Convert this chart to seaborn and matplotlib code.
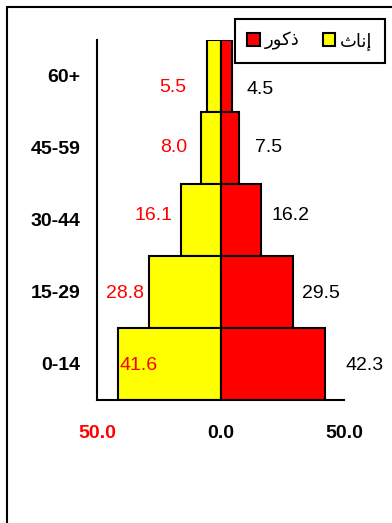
import matplotlib
matplotlib.use("Agg")
import pandas as pd
import seaborn as sns
import matplotlib.pyplot as plt
from matplotlib.patches import Patch
from matplotlib.lines import Line2D

# data, bottom age group first
ages = ["0-14", "15-29", "30-44", "45-59", "60+"]
females = [41.6, 28.8, 16.1, 8.0, 5.5]
males = [42.3, 29.5, 16.2, 7.5, 4.5]
x_ticks = [-50, 0, 50]
x_tick_labels = ["50.0", "0.0", "50.0"]

# matplotlib does no arabic shaping -> presentation forms in visual order
leg_male = "\ufead\ufeee\ufedb\ufeab"    # ذكور
leg_female = "\ufe99\ufe8e\ufee7\ufe87"  # إناث

# label nudges in pixels (x, y), per age group
fem_off = {"60+": (-34, -12), "45-59": (-27, 1), "30-44": (-27, 4), "15-29": (-24, -2), "0-14": (21, -2)}
male_off = {"60+": (29, -13), "45-59": (30, 1), "30-44": (30, 4), "15-29": (28, -2), "0-14": (40, -2)}

sns.set_style("white")
plt.rcParams["font.family"] = ["Liberation Sans", "DejaVu Sans"]
plt.rcParams["text.color"] = "black"

df = pd.DataFrame({"age": ages, "female": [-v for v in females], "male": males})
order = ages[::-1]

fig = plt.figure(figsize=(3.92, 5.23), dpi=100)
ax = fig.add_axes([97 / 392, 123 / 523, 247 / 392, 360 / 523])

sns.barplot(data=df, x="female", y="age", order=order, orient="h", color="#ffff00",
            saturation=1, width=1, edgecolor="black", linewidth=1.5, errorbar=None, ax=ax)
sns.barplot(data=df, x="male", y="age", order=order, orient="h", color="#ff0000",
            saturation=1, width=1, edgecolor="black", linewidth=1.5, errorbar=None, ax=ax)

ax.set_xlim(-50, 50)
ax.set_ylim(4.5, -0.5)
ax.set_xlabel("")
ax.set_ylabel("")

for i, age in enumerate(order):
    k = ages.index(age)
    ax.annotate(f"{females[k]:.1f}", xy=(-females[k], i), xytext=fem_off[age],
                textcoords="offset pixels", ha="center", va="center", color="red", fontsize=14)
    ax.annotate(f"{males[k]:.1f}", xy=(males[k], i), xytext=male_off[age],
                textcoords="offset pixels", ha="center", va="center", color="black", fontsize=14)

for s in ["top", "right"]:
    ax.spines[s].set_visible(False)
for s in ["left", "bottom"]:
    ax.spines[s].set_color("black")
    ax.spines[s].set_linewidth(1.5)

ax.set_xticks(x_ticks, x_tick_labels)
ax.tick_params(axis="x", direction="out", length=6, width=1.5, pad=12, labelsize=14,
               color="black", labelcolor="black")
ax.tick_params(axis="y", length=0, pad=12, labelsize=14, labelcolor="black")
for t in ax.get_xticklabels() + ax.get_yticklabels():
    t.set_fontweight("bold")
ax.get_xticklabels()[0].set_color("red")

leg = fig.legend(handles=[Patch(fc="#ff0000", ec="black", lw=1.5, label=leg_male),
                          Patch(fc="#ffff00", ec="black", lw=1.5, label=leg_female)],
                 loc="upper right", bbox_to_anchor=(385 / 392, 1 - 19 / 523), ncol=2,
                 frameon=True, fancybox=False, edgecolor="black", framealpha=1,
                 prop={"family": "DejaVu Sans", "size": 13}, handlelength=0.7, handleheight=0.7,
                 handletextpad=0.25, columnspacing=1.3, borderpad=0.7, borderaxespad=0)
leg.get_frame().set_linewidth(1.5)
for t in leg.get_texts():
    t.set_color("black")

# outer chart frame: only left and top edges are inside the picture
fig.add_artist(Line2D([7 / 392, 7 / 392], [-0.05, 1 - 7 / 523], transform=fig.transFigure,
                      color="black", lw=1.5, clip_on=False))
fig.add_artist(Line2D([7 / 392, 1.05], [1 - 7 / 523, 1 - 7 / 523], transform=fig.transFigure,
                      color="black", lw=1.5, clip_on=False))

fig.savefig("out.png", dpi=100)
